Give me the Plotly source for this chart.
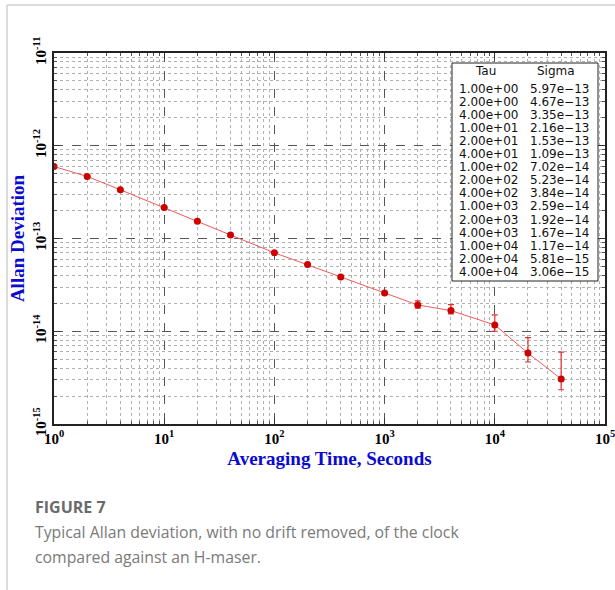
import plotly.graph_objects as go

# ---- data ----
tau = [1, 2, 4, 10, 20, 40, 100, 200, 400, 1000, 2000, 4000, 10000, 20000, 40000]
sigma = [5.97e-13, 4.67e-13, 3.35e-13, 2.16e-13, 1.53e-13, 1.09e-13, 7.02e-14,
         5.23e-14, 3.84e-14, 2.59e-14, 1.92e-14, 1.67e-14, 1.17e-14, 5.81e-15, 3.06e-15]
# error bar ends (0 where not visible)
err_hi = [0, 0, 0, 0, 0, 0, 0, 0, 0, 0, 2.13e-14, 1.94e-14, 1.50e-14, 8.55e-15, 5.97e-15]
err_lo = [0, 0, 0, 0, 0, 0, 0, 0, 0, 0, 1.77e-14, 1.54e-14, 1.00e-14, 4.66e-15, 2.34e-15]

x_tickvals = [1, 10, 100, 1000, 10000, 100000]
x_ticktext = ["10<sup>0</sup>", "10<sup>1</sup>", "10<sup>2</sup>", "10<sup>3</sup>",
              "10<sup>4</sup>", "10<sup>5</sup>"]
y_tickvals = [1e-15, 1e-14, 1e-13, 1e-12, 1e-11]
y_ticktext = ["10<sup>-15</sup>", "10<sup>-14</sup>", "10<sup>-13</sup>",
              "10<sup>-12</sup>", "10<sup>-11</sup>"]

x_title = "Averaging Time, Seconds"
y_title = "Allan Deviation"
caption_head = "FIGURE 7"
caption_lines = ["Typical Allan deviation, with no drift removed, of the clock",
                 "compared against an H-maser."]

# ---- layout geometry (pixels) ----
W, H = 615, 590
L, R, T, B = 54, 605, 53, 424


def px(xp):
    return (xp - L) / (R - L)


def py(yp):
    return (B - yp) / (B - T)


err_plus = [h - s if h else 0 for h, s in zip(err_hi, sigma)]
err_minus = [s - l if l else 0 for l, s in zip(err_lo, sigma)]

fig = go.Figure()
fig.add_trace(go.Scatter(
    x=tau, y=sigma, mode="lines+markers",
    line=dict(color="#f05a5a", width=1),
    marker=dict(color="#cc0000", size=7),
    error_y=dict(type="data", symmetric=False, array=err_plus, arrayminus=err_minus,
                 color="#e03030", thickness=1.2, width=3),
    showlegend=False,
))

minor_x = [m * 10 ** d for d in range(0, 5) for m in range(2, 10)]
minor_y = [m * 10.0 ** d for d in range(-15, -11) for m in range(2, 10)]

tickfont = dict(family="Liberation Serif", size=15, color="black", weight="bold")
titlefont = dict(family="Liberation Serif", size=19, color="#0a0ad0", weight="bold")

fig.update_xaxes(
    type="log", range=[0, 5], automargin=False, ticklabeloverflow="allow",
    tickvals=x_tickvals, ticktext=x_ticktext, tickfont=tickfont,
    ticks="inside", ticklen=6, tickcolor="#333",
    showline=True, linecolor="#222", linewidth=1.5, mirror="allticks",
    showgrid=True, gridcolor="#555", griddash="dash", gridwidth=1,
    zeroline=False,
    minor=dict(tickvals=minor_x, ticks="inside", ticklen=3, tickcolor="#555",
               showgrid=True, gridcolor="#b0b0b0", griddash="dot", gridwidth=1),
    title=dict(text=x_title, font=titlefont, standoff=6),
)
fig.update_yaxes(
    type="log", range=[-15, -11], automargin=False, ticklabeloverflow="allow",
    tickvals=y_tickvals, ticktext=y_ticktext, tickfont=tickfont, tickangle=-90,
    ticks="inside", ticklen=6, tickcolor="#333",
    showline=True, linecolor="#222", linewidth=1.5, mirror="allticks",
    showgrid=True, gridcolor="#555", griddash="dash", gridwidth=1,
    zeroline=False,
    minor=dict(tickvals=minor_y, ticks="inside", ticklen=3, tickcolor="#555",
               showgrid=True, gridcolor="#b0b0b0", griddash="dot", gridwidth=1),
    title=dict(text=y_title, font=titlefont, standoff=1),
)

shapes = []
annotations = []

# table box
shapes.append(dict(type="rect", xref="paper", yref="paper",
                   x0=px(452), x1=px(598), y0=py(281), y1=py(63),
                   fillcolor="white", line=dict(color="#222", width=1), layer="above"))
tabfont = dict(family="DejaVu Sans", size=12, color="#111")
annotations.append(dict(xref="paper", yref="paper", x=px(485), y=py(71), text="Tau",
                        showarrow=False, xanchor="center", yanchor="middle", font=tabfont))
annotations.append(dict(xref="paper", yref="paper", x=px(556), y=py(71), text="Sigma",
                        showarrow=False, xanchor="center", yanchor="middle", font=tabfont))
for i, (t, s) in enumerate(zip(tau, sigma)):
    yrow = 89 + i * 13.05
    annotations.append(dict(xref="paper", yref="paper", x=px(458), y=py(yrow),
                            text=f"{t:.2e}", showarrow=False, xanchor="left",
                            yanchor="middle", font=tabfont, borderpad=0))
    annotations.append(dict(xref="paper", yref="paper", x=px(529), y=py(yrow),
                            text=f"{s:.2e}".replace("-", "\u2212"), showarrow=False,
                            xanchor="left", yanchor="middle", font=tabfont, borderpad=0))

# page frame lines
shapes.append(dict(type="line", xref="paper", yref="paper",
                   x0=px(7), x1=px(620), y0=py(5), y1=py(5),
                   line=dict(color="#d0d0d0", width=1.5)))
shapes.append(dict(type="line", xref="paper", yref="paper",
                   x0=px(7), x1=px(7), y0=py(5), y1=py(600),
                   line=dict(color="#d0d0d0", width=1.5)))

# caption
annotations.append(dict(xref="paper", yref="paper", x=px(33), y=py(507),
                        text=caption_head, showarrow=False, xanchor="left",
                        yanchor="middle",
                        font=dict(family="Open Sans", size=16, color="#6b6b6b",
                                  weight="bold")))
for i, line in enumerate(caption_lines):
    annotations.append(dict(xref="paper", yref="paper", x=px(33), y=py(532 + 25 * i),
                            text=line, showarrow=False, xanchor="left",
                            yanchor="middle",
                            font=dict(family="Open Sans", size=15.8, color="#7a7a7a")))

fig.update_layout(
    width=W, height=H,
    margin=dict(l=L, r=W - R, t=T, b=H - B),
    paper_bgcolor="white", plot_bgcolor="white",
    shapes=shapes, annotations=annotations,
)

fig.write_html("out.html", config={"displayModeBar": False},
               post_script="document.body.style.margin='0px';"
                           "document.body.style.overflow='hidden';")
